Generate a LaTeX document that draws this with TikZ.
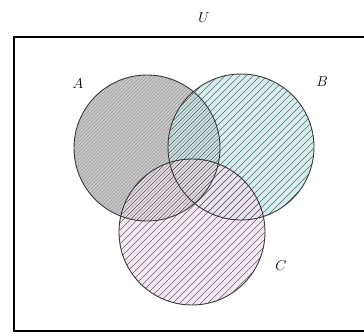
\documentclass[tikz,border=0pt]{standalone}
\usepackage{tikz}
\definecolor{bfill}{HTML}{CBEBEA}
\definecolor{cfill}{HTML}{F3E0EF}
\definecolor{afill}{HTML}{C9C9C9}
\definecolor{edge}{HTML}{3A3A3A}
\tikzset{
  setedge/.style={draw=edge, line width=0.9pt},
  hatchA/.style={draw=black!40, line width=0.45pt},
  hatchBC/.style={draw=black!60, line width=0.6pt},
  lbl/.style={font=\fontsize{14}{16}\selectfont, inner sep=0pt}
}
\begin{document}
\begin{tikzpicture}[x=1pt,y=-1pt]
\useasboundingbox (0,0) rectangle (364,334);
\clip (0,0) rectangle (364,334);
% fills
\fill[afill] (147,148) circle (73);
\fill[bfill, fill opacity=0.85] (241,147) circle (73);
\fill[cfill, fill opacity=0.75] (192,232) circle (73);
% hatching A (fine)
\begin{scope}
  \clip (147,148) circle (73);
  \foreach \c in {70,73.5,...,400}
    \draw[hatchA] (\c,0) -- (\c-330,330);
\end{scope}
% hatching B
\begin{scope}
  \clip (241,147) circle (73);
  \foreach \c in {154,161,...,560}
    \draw[hatchBC] (\c,0) -- (\c-330,330);
\end{scope}
% hatching C
\begin{scope}
  \clip (192,232) circle (73);
  \foreach \c in {154,161,...,700}
    \draw[hatchBC] (\c,0) -- (\c-400,400);
\end{scope}
% outlines
\draw[setedge] (147,148) circle (73);
\draw[setedge] (241,147) circle (73);
\draw[setedge] (192,232) circle (73);
% universe
\draw[black, line width=1.4pt] (370,37) -- (14,37) -- (14,331) -- (370,331);
% labels
\node[lbl] (U) at (204,18) {$U$};
\node[lbl] (A) at (78,84) {$A$};
\node[lbl] (B) at (322,82) {$B$};
\node[lbl] (C) at (281,266) {$C$};
\end{tikzpicture}
\end{document}
